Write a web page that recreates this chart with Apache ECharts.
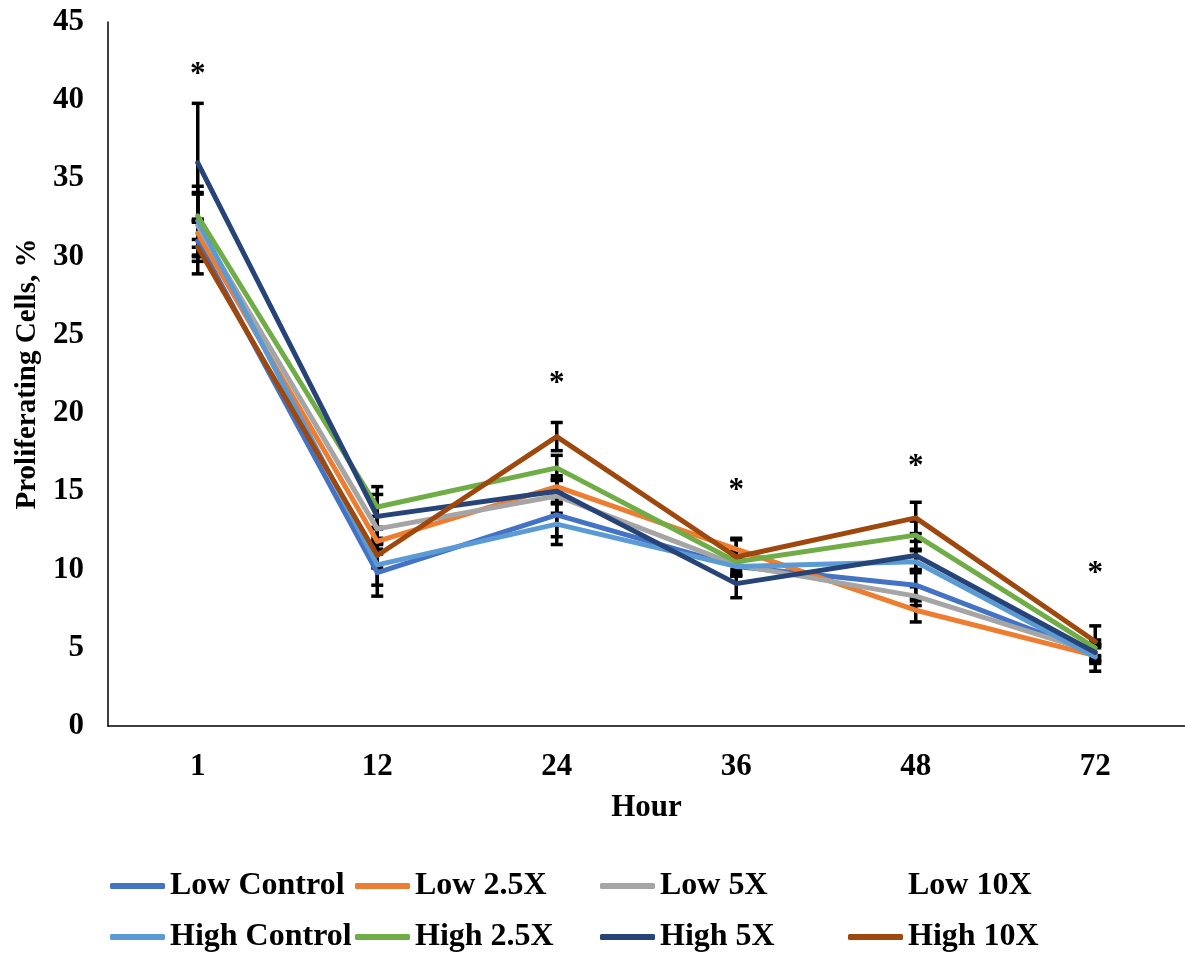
<!DOCTYPE html>
<html>
<head>
<meta charset="utf-8">
<script src="https://cdn.jsdelivr.net/npm/echarts@6/dist/echarts.min.js"></script>
<style>html,body{margin:0;padding:0;background:#fff}#c{width:1185px;height:954px}</style>
</head>
<body>
<div id="c"></div>
<script>
const categories = ['1', '12', '24', '36', '48', '72'];
const yTicks = [0, 45, 5];

const seriesNames = ['Low Control', 'Low 2.5X', 'Low 5X', 'Low 10X', 'High Control', 'High 2.5X', 'High 5X', 'High 10X'];

const lowControl   = [31.0, 9.8, 13.5, 10.2, 9.0, 4.6];
const low25        = [31.5, 11.8, 15.3, 11.3, 7.4, 4.5];
const low5         = [32.0, 12.6, 14.7, 10.3, 8.3, 4.7];
const low10        = [];
const highControl  = [32.3, 10.3, 12.9, 10.2, 10.5, 4.4];
const high25       = [32.6, 14.0, 16.5, 10.5, 12.2, 5.0];
const high5        = [36.0, 13.4, 15.0, 9.1, 10.9, 4.7];
const high10       = [30.6, 10.9, 18.5, 10.8, 13.3, 5.4];

const errLowControl  = [1.3, 1.5, 1.4, 0.6, 1.0, 0.5];
const errLow25       = [0.9, 0.8, 0.7, 0.6, 0.75, 0.5];
const errLow5        = [2.0, 0.8, 1.1, 0.6, 0.6, 0.5];
const errLow10       = [];
const errHighControl = [2.2, 1.3, 1.3, 0.6, 0.7, 0.9];
const errHigh25      = [1.5, 1.3, 0.8, 0.7, 0.9, 0.5];
const errHigh5       = [3.8, 1.4, 0.7, 0.9, 0.9, 0.5];
const errHigh10      = [1.7, 0.8, 0.9, 1.2, 1.0, 1.0];

const asteriskCats = ['1', '24', '36', '48', '72'];
const asteriskVals = [41.9, 22.1, 15.3, 16.8, 10.0];

const colors = ['#4472C4', '#ED7D31', '#A5A5A5', 'rgba(0,0,0,0)', '#5B9BD5', '#70AD47', '#264478', '#9E480E'];
const values = [lowControl, low25, low5, low10, highControl, high25, high5, high10];
const errors = [errLowControl, errLow25, errLow5, errLow10, errHighControl, errHigh25, errHigh5, errHigh10];

const FONT = 'Liberation Serif';
const FS = 31;

const errData = [];
values.forEach((arr, s) => {
  arr.forEach((v, i) => {
    const e = errors[s][i];
    if (v != null && e != null) errData.push([i, v - e, v + e]);
  });
});

const series = [];
series.push({
  type: 'custom',
  name: 'errorbars',
  z: 1,
  silent: true,
  data: errData,
  renderItem: function (params, api) {
    const lo = api.coord([api.value(0), api.value(1)]);
    const hi = api.coord([api.value(0), api.value(2)]);
    const w = 6;
    const st = { stroke: '#000', lineWidth: 3.5 };
    return {
      type: 'group',
      children: [
        { type: 'line', shape: { x1: hi[0], y1: hi[1], x2: lo[0], y2: lo[1] }, style: st },
        { type: 'line', shape: { x1: hi[0] - w, y1: hi[1], x2: hi[0] + w, y2: hi[1] }, style: st },
        { type: 'line', shape: { x1: lo[0] - w, y1: lo[1], x2: lo[0] + w, y2: lo[1] }, style: st }
      ]
    };
  }
});

seriesNames.forEach((n, s) => {
  series.push({
    type: 'line',
    name: n,
    data: values[s],
    z: 2 + s,
    symbol: 'none',
    showSymbol: false,
    color: colors[s],
    lineStyle: { width: 5, color: colors[s], cap: 'round', join: 'round' },
    itemStyle: { color: colors[s] }
  });
});

series.push({
  type: 'custom',
  name: 'asterisks',
  z: 20,
  silent: true,
  data: asteriskCats.map((c, i) => [categories.indexOf(c), asteriskVals[i]]),
  renderItem: function (params, api) {
    const p = api.coord([api.value(0), api.value(1)]);
    return {
      type: 'text',
      x: p[0], y: p[1] + 4,
      style: { text: '*', fontFamily: FONT, fontWeight: 'bold', fontSize: 31, fill: '#000', align: 'center', verticalAlign: 'middle' }
    };
  }
});

const legendColLefts = [110, 355, 600, 848];
const legendRowTops = [870, 921];

const legends = seriesNames.map((n, s) => ({
  orient: 'horizontal',
  left: legendColLefts[s % 4],
  top: legendRowTops[Math.floor(s / 4)],
  data: [n],
  icon: 'roundRect',
  itemWidth: 55,
  itemHeight: 6,
  selectedMode: false,
  padding: 0,
  textStyle: { fontFamily: FONT, fontWeight: 'bold', fontSize: 32, color: '#000', lineHeight: 32, padding: [0, 0, 0, 0] }
}));

const chart = echarts.init(document.getElementById('c'), null, { renderer: 'canvas' });
chart.setOption({
  animation: false,
  backgroundColor: '#fff',
  legend: legends,
  grid: { left: 108, top: 22, width: 1081, height: 704, containLabel: false },
  xAxis: {
    type: 'category',
    data: categories,
    boundaryGap: true,
    name: 'Hour',
    nameLocation: 'middle',
    nameGap: 66,
    nameTextStyle: { fontFamily: FONT, fontWeight: 'bold', fontSize: FS, color: '#000' },
    axisLine: { show: true, lineStyle: { color: '#000', width: 1.5 } },
    axisTick: { show: false },
    axisLabel: { fontFamily: FONT, fontWeight: 'bold', fontSize: FS, color: '#000', margin: 25 },
    splitLine: { show: false }
  },
  yAxis: {
    type: 'value',
    min: yTicks[0],
    max: yTicks[1],
    interval: yTicks[2],
    name: 'Proliferating Cells, %',
    nameLocation: 'middle',
    nameGap: 64,
    nameTextStyle: { fontFamily: FONT, fontWeight: 'bold', fontSize: 29, color: '#000' },
    axisLine: { show: true, lineStyle: { color: '#000', width: 1.5 } },
    axisTick: { show: false },
    axisLabel: { fontFamily: FONT, fontWeight: 'bold', fontSize: FS, color: '#000', margin: 24 },
    splitLine: { show: false }
  },
  series: series
});
</script>
</body>
</html>
